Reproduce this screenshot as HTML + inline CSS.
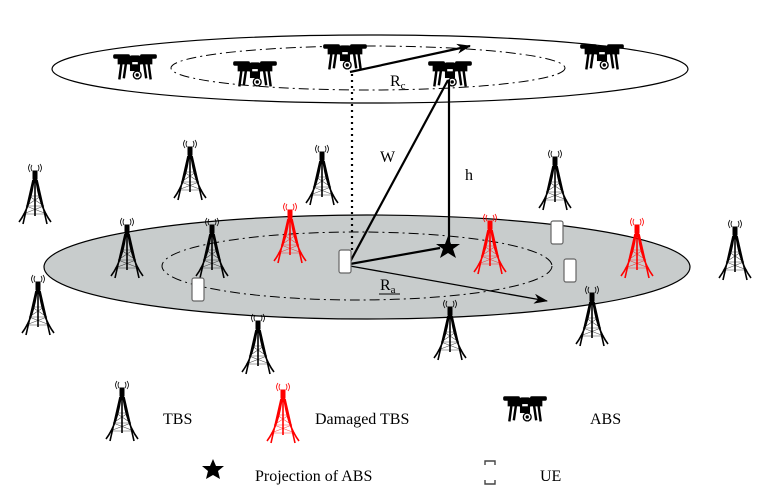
<!DOCTYPE html>
<html><head><style>body{margin:0;background:#fff}svg{display:block}text{font-family:"Liberation Serif",serif;fill:#000}</style></head><body>
<svg width="764" height="503" viewBox="0 0 764 503" xmlns="http://www.w3.org/2000/svg">
<defs>
<g id="tw">
 <path d="M-5,6 q-3,-4 0,-8 M5,6 q3,-4 0,-8 M-3,5 q-2,-3 0,-6 M3,5 q2,-3 0,-6" fill="none" stroke-width="0.8"/>
 <rect x="-2" y="5" width="4" height="8"/>
 <path d="M-1,12 Q-4,40 -16,56 M1,12 Q4,40 16,56 M-2,14 Q-8,40 -12,58 M2,14 Q8,40 12,58 M0,12 L0,50" fill="none" stroke-width="1.6"/>
 <path d="M-6,30 L6,30 M-9,40 L9,40 M-12,48 L12,48 M-6,30 L9,40 M6,30 L-9,40 M-9,40 L12,48 M9,40 L-12,48" fill="none" stroke-width="0.6" opacity="0.7"/>
</g>
<g id="dr0">
 <rect x="-19" y="-10" width="14" height="3" rx="1"/><rect x="5" y="-10" width="14" height="3" rx="1"/>
 <path d="M-15,-7 h30 v5 h-30z"/>
 <rect x="-5" y="-9" width="10" height="8" rx="2"/>
 <rect x="-3" y="-4" width="6" height="4" fill="#fff"/>
 <path d="M-12,-3 L-14,12 M-8,-3 L-10,11 M12,-3 L14,12 M8,-3 L10,11" stroke="#000" stroke-width="2.2"/>
 <rect x="-4" y="-1" width="8" height="5"/>
 <circle cx="2" cy="8" r="3.5" fill="#fff" stroke="#000" stroke-width="1.2"/><circle cx="2" cy="8" r="1" />
</g>
<g id="dr"><use href="#dr0" transform="scale(1.12)"/></g>
<g id="ue"><rect x="-6" y="0" width="12" height="23" rx="2" fill="#fff" stroke="#666" stroke-width="1.2"/></g>
<marker id="ah" markerWidth="14" markerHeight="10" refX="13" refY="5" orient="auto" markerUnits="userSpaceOnUse"><path d="M0,0 L14,5 L0,10 L4,5z" fill="#000"/></marker>
</defs>
<ellipse cx="370" cy="69" rx="318" ry="34" fill="none" stroke="#000" stroke-width="1.2"/>
<ellipse cx="368" cy="68" rx="197" ry="22" fill="none" stroke="#000" stroke-width="1" stroke-dasharray="10,4,2,4"/>
<g fill="#000" stroke="#000">
<use href="#dr" x="135" y="66"/><use href="#dr" x="255" y="73"/><use href="#dr" x="345" y="56"/><use href="#dr" x="450" y="73"/><use href="#dr" x="602" y="56"/>
</g>
<line x1="350" y1="72" x2="470" y2="46" stroke="#000" stroke-width="2.2" marker-end="url(#ah)"/>
<text x="390" y="86" font-size="16">R<tspan font-size="11" dy="3">c</tspan></text>
<ellipse cx="367" cy="267" rx="323" ry="52" fill="#c8cccc" stroke="#000" stroke-width="1.2"/>
<ellipse cx="357" cy="266" rx="195" ry="34" fill="none" stroke="#000" stroke-width="1" stroke-dasharray="10,4,2,4"/>
<line x1="352" y1="74" x2="352" y2="252" stroke="#000" stroke-width="2.2" stroke-dasharray="2,4"/>
<line x1="350" y1="262" x2="448" y2="80" stroke="#000" stroke-width="2.2"/>
<line x1="449" y1="80" x2="449" y2="242" stroke="#000" stroke-width="2.2"/>
<line x1="350" y1="264" x2="440" y2="248" stroke="#000" stroke-width="2.2"/>
<line x1="350" y1="266" x2="547" y2="301" stroke="#000" stroke-width="1.3" marker-end="url(#ah)"/>
<text x="380" y="162" font-size="16">W</text>
<text x="465" y="180" font-size="16">h</text>
<text x="380" y="290" font-size="16">R<tspan font-size="11" dy="3">a</tspan></text>
<line x1="379" y1="294" x2="400" y2="294" stroke="#000" stroke-width="1"/>
<path d="M448,236 l3,8 9,0 -7,5 3,9 -8,-5 -8,5 3,-9 -7,-5 9,0z" fill="#000"/>
<g fill="#000" stroke="#000">
<use href="#tw" x="35" y="166"/><use href="#tw" x="190" y="142"/><use href="#tw" x="322" y="147"/><use href="#tw" x="555" y="152"/>
<use href="#tw" x="127" y="220"/><use href="#tw" x="212" y="220"/><use href="#tw" x="735" y="222"/><use href="#tw" x="38" y="277"/>
<use href="#tw" x="258" y="316"/><use href="#tw" x="450" y="302"/><use href="#tw" x="592" y="288"/>
</g>
<g fill="#f00" stroke="#f00">
<use href="#tw" x="290" y="205"/><use href="#tw" x="490" y="216"/><use href="#tw" x="637" y="220"/>
</g>
<use href="#ue" x="345" y="250"/><use href="#ue" x="557" y="221"/><use href="#ue" x="570" y="259"/><use href="#ue" x="198" y="278"/>
<g fill="#000" stroke="#000"><use href="#tw" x="122" y="383"/><use href="#dr" x="525" y="408"/></g>
<g fill="#f00" stroke="#f00"><use href="#tw" x="283" y="385"/></g>
<text x="163" y="424" font-size="16">TBS</text>
<text x="315" y="424" font-size="16">Damaged TBS</text>
<text x="590" y="424" font-size="16">ABS</text>
<path d="M213,459 l3,7 8,0 -6,5 2,8 -7,-4 -7,4 2,-8 -6,-5 8,0z" fill="#000"/>
<text x="255" y="481" font-size="16">Projection of ABS</text>
<path d="M485,465 v-4 h10 v4 M485,480 v4 h10 v-4" fill="none" stroke="#444" stroke-width="1.4"/>
<text x="540" y="481" font-size="16">UE</text>
</svg>
</body></html>
